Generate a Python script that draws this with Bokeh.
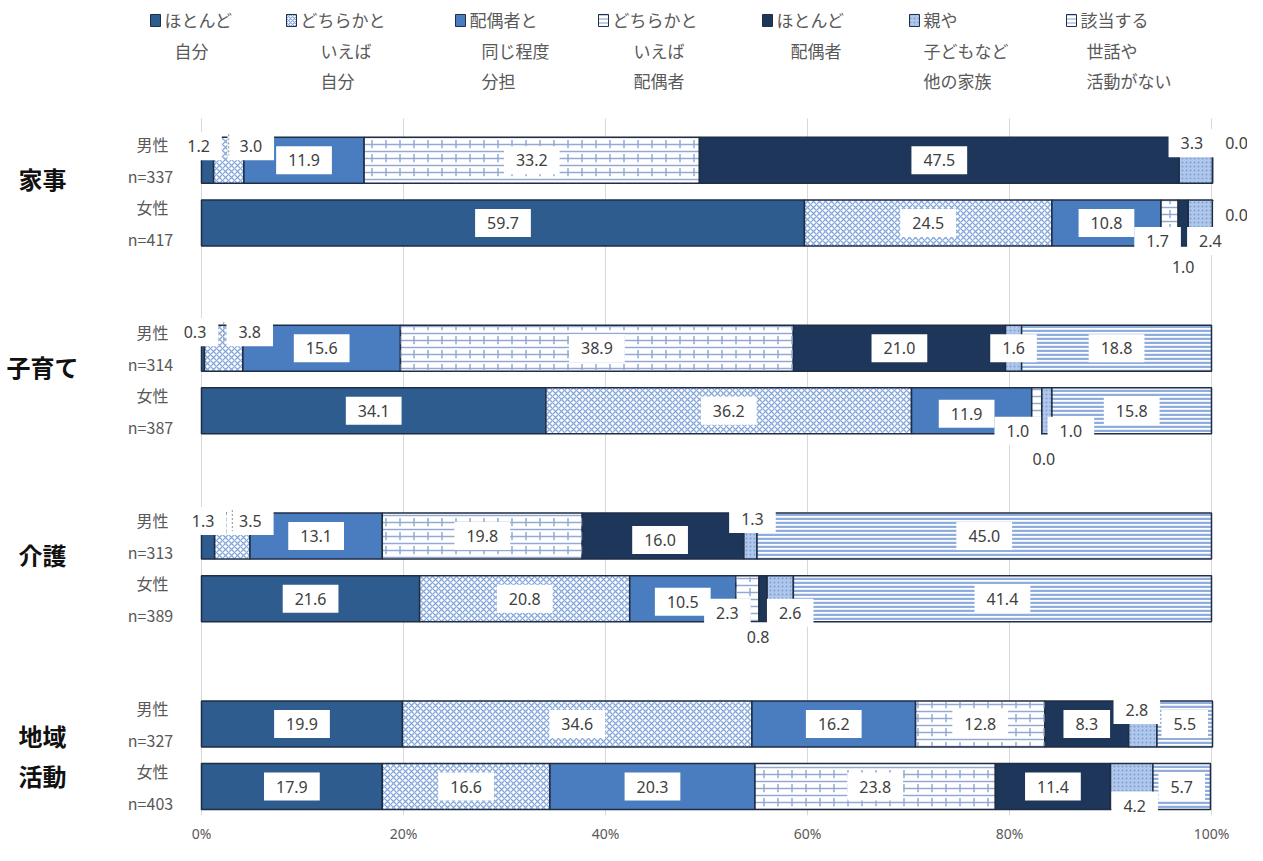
import numpy as np
from bokeh.plotting import figure
from bokeh.models import ColumnDataSource, Range1d, FixedTicker, PrintfTickFormatter
from bokeh.transform import stack
from bokeh.core.properties import value
from bokeh.embed import file_html
from bokeh.resources import INLINE

# ---------------- data ----------------
categories = ["ほとんど\n自分", "どちらかと\nいえば\n自分", "配偶者と\n同じ程度\n分担",
              "どちらかと\nいえば\n配偶者", "ほとんど\n配偶者", "親や\n子どもなど\n他の家族",
              "該当する\n世話や\n活動がない"]
groups = ["家事", "子育て", "介護", "地域\n活動"]
genders = ["男性", "女性", "男性", "女性", "男性", "女性", "男性", "女性"]
n_values = [337, 417, 314, 387, 313, 389, 327, 403]

hotondo_jibun = [1.2, 59.7, 0.3, 34.1, 1.3, 21.6, 19.9, 17.9]
dochira_jibun = [3.0, 24.5, 3.8, 36.2, 3.5, 20.8, 34.6, 16.6]
onaji_teido = [11.9, 10.8, 15.6, 11.9, 13.1, 10.5, 16.2, 20.3]
dochira_haigu = [33.2, 1.7, 38.9, 1.0, 19.8, 2.3, 12.8, 23.8]
hotondo_haigu = [47.5, 1.0, 21.0, 0.0, 16.0, 0.8, 8.3, 11.4]
kazoku = [3.3, 2.4, 1.6, 1.0, 1.3, 2.6, 2.8, 4.2]
gaito_nashi = [0.0, 0.0, 18.8, 15.8, 45.0, 41.4, 5.5, 5.7]

x_ticks = [0, 20, 40, 60, 80, 100]

series = [hotondo_jibun, dochira_jibun, onaji_teido, dochira_haigu,
          hotondo_haigu, kazoku, gaito_nashi]

# ---------------- layout helpers (canvas px) ----------------
W, H = 1247, 845
FRAME_BOTTOM = 816
X0, XS = 201.0, 10.1      # px of 0%, px per percent
Y0, YS = 160.0, 62.7      # px of first row, px per row unit
def xd(px): return (px - X0) / XS
def yd(py): return (py - Y0) / YS

y_pos = [0, 1, 3, 4, 6, 7, 9, 10]
bar_h = 46 / YS

# styles per series
fills = ["#2E5C8F", "#FFFFFF", "#4A7DC0", "#FFFFFF", "#1E3659", "#AFC7EA", "#FFFFFF"]
hatches = [None, "diagonal_cross", None, "horizontal_line", None, "dot", "horizontal_line"]
hatch_colors = ["#000000", "#86A8DA", "#000000", "#93A9D2", "#000000", "#7F9FD0", "#8FAEDD"]
hatch_scales = [12, 6, 12, 7, 12, 4, 4]
hatch_weights = [1, 1.3, 1, 1.5, 1, 1, 2.5]
outline = "#1F2D45"

p = figure(width=W, height=H, output_backend="svg", toolbar_location=None,
           x_range=Range1d(xd(0), xd(W)), y_range=Range1d(yd(FRAME_BOTTOM), yd(0)),
           y_axis_location=None, min_border_left=0, min_border_right=0,
           min_border_top=0, min_border_bottom=H - FRAME_BOTTOM, title=None)
p.outline_line_color = None
p.xgrid.visible = False
p.ygrid.visible = False
p.background_fill_color = "white"
p.border_fill_color = "white"

ax = p.xaxis[0]
ax.ticker = FixedTicker(ticks=x_ticks)
ax.formatter = PrintfTickFormatter(format="%d%%")
ax.axis_line_color = None
ax.major_tick_line_color = None
ax.minor_tick_line_color = None
ax.major_label_text_color = "#595959"
ax.major_label_text_font = "Noto Sans"
ax.major_label_text_font_size = "14px"
ax.major_label_standoff = 2

# gridlines
p.segment(x0=x_ticks, x1=x_ticks, y0=[yd(118)] * len(x_ticks), y1=[yd(FRAME_BOTTOM)] * len(x_ticks),
          line_color="#D9D9D9", line_width=1)

# stacked bars
names = [f"s{k}" for k in range(7)]
cols = {names[k]: series[k] for k in range(7)}
cols["y"] = y_pos
src = ColumnDataSource(cols)
p.hbar_stack(names, y="y", height=bar_h, source=src,
             fill_color=fills, line_color=outline, line_width=1.5,
             hatch_pattern=hatches, hatch_color=hatch_colors,
             hatch_scale=hatch_scales, hatch_weight=hatch_weights)
# brick joints overlay for "どちらかといえば配偶者"
p.hbar(y="y", left=stack(*names[:3]), right=stack(*names[:4]), height=bar_h - 2 / YS,
       source=src, fill_alpha=0, line_color=None,
       hatch_pattern="vertical_dash", hatch_color="#93A9D2", hatch_scale=14, hatch_weight=1.5)

# value labels
label_offsets = {
    (0, 0): (-9, -14), (0, 1): (22, -14), (0, 5): (-4, -17), (0, 6): (24, -17),
    (1, 3): (-12, 18), (1, 4): (0, 44), (1, 5): (10, 18), (1, 6): (24, -8),
    (2, 0): (-8, -16), (2, 1): (26, -16),
    (3, 2): (-5, 3), (3, 3): (-19, 20), (3, 4): (2, 48), (3, 5): (24, 20),
    (4, 0): (-5, -15), (4, 1): (18, -15), (4, 4): (-3, 4), (4, 5): (2, -17),
    (5, 2): (0, 3), (5, 3): (-20, 14), (5, 4): (-5, 38), (5, 5): (10, 14),
    (6, 5): (-6, -14),
    (7, 5): (3, 19),
}
lx, ly, lt = [], [], []
for k in range(7):
    for r in range(8):
        vals = [s[r] for s in series]
        cum = np.cumsum([0.0] + vals)
        cx = (cum[k] + cum[k + 1]) / 2
        dx, dy = label_offsets.get((r, k), (0, 0))
        lx.append(cx + dx / XS)
        ly.append(y_pos[r] + dy / YS)
        lt.append(f"{vals[k]:.1f}")
p.text(x=lx, y=ly, text=lt, text_font=value("Noto Sans"), text_font_size="16px",
       text_color="#404040", text_align="center", text_baseline="middle",
       background_fill_color="white", padding=dict(left=12, right=12, top=8, bottom=8))

# leader lines for the small first-segment labels
lead_x, lead_y0, lead_y1 = [], [], []
for r in (0, 2, 4):
    lead_x.append(series[0][r] + series[1][r] / 2)
    lead_y0.append(y_pos[r] - 26 / YS)
    lead_y1.append(y_pos[r] - 5 / YS)
p.segment(x0=lead_x, x1=lead_x, y0=lead_y0, y1=lead_y1, line_color="#8C8C8C",
          line_width=1, line_dash="2 2")

# gender / n labels
gx, gy, gt = [], [], []
for r in range(8):
    gx += [xd(152), xd(150)]
    gy += [y_pos[r] - 16 / YS, y_pos[r] + 16 / YS]
    gt += [genders[r], f"n={n_values[r]}"]
p.text(x=gx, y=gy, text=gt, text_font=value("Noto Sans CJK JP"), text_font_size="16px",
       text_color="#595959", text_align="center", text_baseline="middle")

# group labels
cx_, cy_, ct_ = [], [], []
for g, name in enumerate(groups):
    mid_px = Y0 + (y_pos[2 * g] + y_pos[2 * g + 1]) / 2 * YS
    lines = name.split("\n")
    nl = len(lines)
    for i, line in enumerate(lines):
        py = mid_px + (i - (nl - 1) / 2) * 40 - (13 if nl == 1 else 0)
        cx_.append(xd(42)); cy_.append(yd(py)); ct_.append(line)
p.text(x=cx_, y=cy_, text=ct_, text_font=value("Noto Sans CJK JP"), text_font_size="24px",
       text_font_style="bold", text_color="#111111", text_align="center", text_baseline="middle")

# legend
leg_left = [150, 286, 455, 598, 762, 909, 1066]
leg_indent = [10, 20, 12, 21, 14, 0, 6]
leg_lines_y = [19, 50, 80]
tx, ty, tt = [], [], []
for k, name in enumerate(categories):
    p.rect(x=xd(leg_left[k] + 5), y=yd(20), width=10, height=12,
           width_units="screen", height_units="screen",
           fill_color=fills[k], line_color=outline, line_width=1,
           hatch_pattern=hatches[k], hatch_color=hatch_colors[k],
           hatch_scale=min(hatch_scales[k], 4), hatch_weight=min(hatch_weights[k], 1.2))
    for i, line in enumerate(name.split("\n")):
        tx.append(xd(leg_left[k] + 14 + (leg_indent[k] if i > 0 else 0)))
        ty.append(yd(leg_lines_y[i]))
        tt.append(line)
p.text(x=tx, y=ty, text=tt, text_font=value("Noto Sans CJK JP"), text_font_size="17px",
       text_color="#595959", text_align="left", text_baseline="middle")

open("out.html", "w").write(file_html(p, INLINE))
